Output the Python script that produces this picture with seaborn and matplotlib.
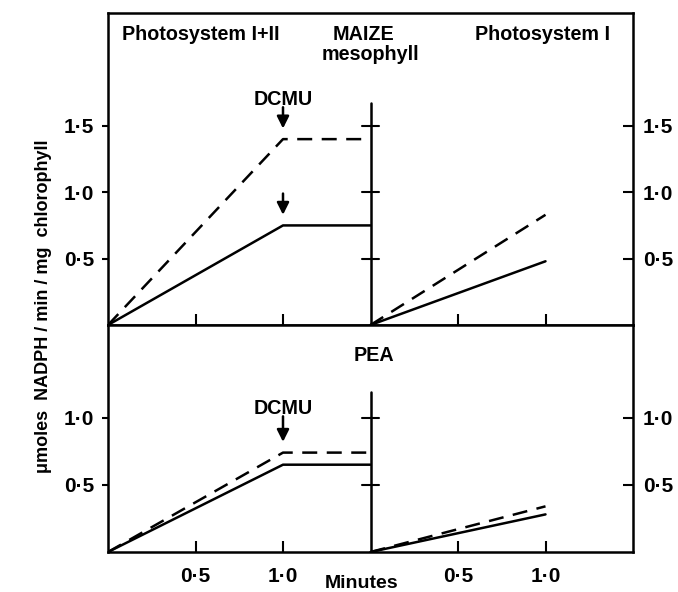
import matplotlib
matplotlib.use("Agg")
import matplotlib.pyplot as plt
import seaborn as sns
import pandas as pd

sns.set_theme(style="white")
plt.rcParams['font.family'] = ['Liberation Sans', 'DejaVu Sans']
plt.rcParams['font.weight'] = 'bold'
plt.rcParams['text.color'] = 'black'
plt.rcParams['xtick.color'] = 'black'
plt.rcParams['ytick.color'] = 'black'
plt.rcParams['axes.labelcolor'] = 'black'

# ---------------- data ----------------
time_ps12 = [0.0, 1.0, 1.5]          # minutes, Photosystem I+II (DCMU added at 1.0)
time_ps1 = [0.0, 1.0]                # minutes, Photosystem I
maize_ps12_dashed = [0.0, 1.40, 1.40]
maize_ps12_solid = [0.0, 0.75, 0.75]
maize_ps1_dashed = [0.0, 0.83]
maize_ps1_solid = [0.0, 0.48]
pea_ps12_dashed = [0.0, 0.74, 0.74]
pea_ps12_solid = [0.0, 0.65, 0.65]
pea_ps1_dashed = [0.0, 0.34]
pea_ps1_solid = [0.0, 0.28]

x_ticks_minutes = [0.5, 1.0]
x_tick_labels = ["0·5", "1·0"]
maize_y_ticks = [0.5, 1.0, 1.5]
maize_y_labels = ["0·5", "1·0", "1·5"]
pea_y_ticks = [0.5, 1.0]
pea_y_labels = ["0·5", "1·0"]

PS1_OFFSET = 1.5  # second section starts at 1.5 on shared axis

W, H = 678, 592
fig = plt.figure(figsize=(W / 100, H / 100), dpi=100)

def px_axes(left, top, right, bottom):
    return fig.add_axes([left / W, 1 - bottom / H, (right - left) / W, (bottom - top) / H])

ax_top = px_axes(108, 13, 633, 325)
ax_bot = px_axes(108, 325, 633, 552)

LW = 1.8
DASH = (6, 3.8)
TICKFS = 15

def draw_panel(ax, ps12_dashed, ps12_solid, ps1_dashed, ps1_solid, ymax, yticks, ylabels, divider_top):
    df = pd.concat([
        pd.DataFrame({"t": time_ps12, "v": ps12_dashed, "s": "a_dashed"}),
        pd.DataFrame({"t": time_ps12, "v": ps12_solid, "s": "a_solid"}),
        pd.DataFrame({"t": [t + PS1_OFFSET for t in time_ps1], "v": ps1_dashed, "s": "b_dashed"}),
        pd.DataFrame({"t": [t + PS1_OFFSET for t in time_ps1], "v": ps1_solid, "s": "b_solid"}),
    ])
    for key, sub in df.groupby("s"):
        sns.lineplot(data=sub, x="t", y="v", ax=ax, color="black", lw=LW,
                     linestyle="--" if "dashed" in key else "-", estimator=None, sort=False)
    for ln in ax.get_lines():
        if ln.get_linestyle() == "--":
            ln.set_dashes(DASH)
    ax.set_xlim(0, 3.0)
    ax.set_ylim(0, ymax)
    ax.set_xlabel("")
    ax.set_ylabel("")
    for sp in ax.spines.values():
        sp.set_visible(True)
        sp.set_color("black")
        sp.set_linewidth(1.8)
    # divider with cross ticks
    ax.plot([PS1_OFFSET, PS1_OFFSET], [0, divider_top], color="black", lw=1.8)
    for yv in yticks:
        ax.plot([PS1_OFFSET - 0.05, PS1_OFFSET + 0.05], [yv, yv], color="black", lw=1.5)
    # x ticks
    xt = x_ticks_minutes + [t + PS1_OFFSET for t in x_ticks_minutes]
    ax.set_xticks(xt)
    ax.tick_params(axis="x", direction="in", length=8, width=1.5, color="black", bottom=True, top=False)
    # left y ticks
    ax.set_yticks(yticks)
    ax.set_yticklabels(ylabels, fontsize=TICKFS, fontweight="bold", color="black")
    ax.tick_params(axis="y", direction="out", length=4, width=1.5, color="black", left=True, pad=6)
    # right y axis
    ax2 = ax.twinx()
    ax2.set_ylim(0, ymax)
    ax2.set_yticks(yticks)
    ax2.set_yticklabels(ylabels, fontsize=TICKFS, fontweight="bold", color="black")
    ax2.tick_params(axis="y", direction="in", length=7, width=1.5, color="black", right=True, pad=7)
    for sp in ax2.spines.values():
        sp.set_visible(False)
    ax2.grid(False)
    ax.grid(False)
    return xt

draw_panel(ax_top, maize_ps12_dashed, maize_ps12_solid, maize_ps1_dashed, maize_ps1_solid,
           2.35, maize_y_ticks, maize_y_labels, 1.67)
xt = draw_panel(ax_bot, pea_ps12_dashed, pea_ps12_solid, pea_ps1_dashed, pea_ps1_solid,
                1.69, pea_y_ticks, pea_y_labels, 1.19)
ax_top.set_xticklabels([])
ax_bot.set_xticklabels(x_tick_labels * 2, fontsize=TICKFS, fontweight="bold", color="black")
ax_bot.tick_params(axis="x", pad=11)

# panel titles
tkw = dict(fontsize=14.2, fontweight="bold", color="black")
ax_top.text(0.08, 2.19, "Photosystem I+II", ha="left", va="center", **tkw)
ax_top.text(1.46, 2.19, "MAIZE", ha="center", va="center", **tkw)
ax_top.text(1.50, 2.04, "mesophyll", ha="center", va="center", **tkw)
ax_top.text(2.87, 2.19, "Photosystem I", ha="right", va="center", **tkw)
ax_bot.text(1.52, 1.46, "PEA", ha="center", va="center", **tkw)

# DCMU markers
akw = dict(arrowstyle="-|>,head_length=0.6,head_width=0.3", color="black", lw=1.8,
           shrinkA=0, shrinkB=0)
ax_top.text(1.0, 1.70, "DCMU", ha="center", va="center", **tkw)
ax_top.annotate("", xy=(1.0, 1.48), xytext=(1.0, 1.64), arrowprops=akw)
ax_top.annotate("", xy=(1.0, 0.83), xytext=(1.0, 0.99), arrowprops=akw)
ax_bot.text(1.0, 1.07, "DCMU", ha="center", va="center", **tkw)
ax_bot.annotate("", xy=(1.0, 0.82), xytext=(1.0, 1.01), arrowprops=akw)

# axis labels
fig.text(43 / W, 1 - 306 / H, "μmoles  NADPH / min / mg  chlorophyll", rotation=90,
         ha="center", va="center", fontsize=13, fontweight="bold", color="black")
fig.text(362 / W, 1 - 583 / H, "Minutes", ha="center", va="center", fontsize=14,
         fontweight="bold", color="black")

fig.savefig("out.png", dpi=100)
